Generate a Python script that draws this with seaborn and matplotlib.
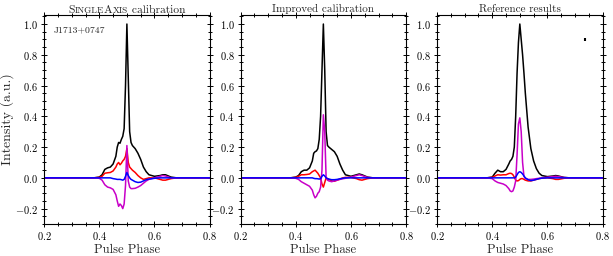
import numpy as np
import pandas as pd
import matplotlib
matplotlib.use('Agg')
import matplotlib.pyplot as plt
import seaborn as sns
from matplotlib.ticker import MultipleLocator

sns.set_style('ticks')
plt.rcParams['font.family'] = 'serif'
plt.rcParams['font.serif'] = ['cmr10']
plt.rcParams['mathtext.fontset'] = 'cm'
plt.rcParams['axes.formatter.use_mathtext'] = True
plt.rcParams['axes.unicode_minus'] = True

# pulse phase samples (shared by all profiles)
phase = [0.20, 0.38, 0.40, 0.41, 0.42, 0.43, 0.44, 0.45, 0.46, 0.465,
         0.47, 0.475, 0.48, 0.485, 0.49, 0.495, 0.50, 0.505, 0.51, 0.515,
         0.52, 0.53, 0.54, 0.55, 0.56, 0.57, 0.58, 0.60, 0.62, 0.63,
         0.64, 0.66, 0.68, 0.80]

# SingleAxis calibration
sa_I = [0, 0, 0.005, 0.02, 0.055, 0.065, 0.07, 0.09, 0.14, 0.2,
        0.23, 0.225, 0.25, 0.27, 0.32, 0.6, 1.0, 0.65, 0.3, 0.23,
        0.21, 0.19, 0.16, 0.12, 0.07, 0.04, 0.02, 0.01, 0.015, 0.02,
        0.02, 0.005, 0, 0]
sa_L = [0, 0, 0.003, 0.01, 0.03, 0.033, 0.035, 0.045, 0.07, 0.09,
        0.10, 0.085, 0.095, 0.11, 0.12, 0.14, 0.19, 0.1, 0.07, 0.06,
        0.05, 0.035, 0.015, 0.0, -0.01, -0.005, 0.0, 0.0, -0.01, -0.015,
        -0.015, -0.005, 0, 0]
sa_V = [0, 0, -0.003, -0.015, -0.045, -0.06, -0.065, -0.075, -0.11, -0.15,
        -0.185, -0.17, -0.18, -0.2, -0.17, -0.05, 0.21, -0.02, -0.06, -0.07,
        -0.07, -0.068, -0.06, -0.05, -0.035, -0.02, -0.01, 0.0, 0.01, 0.015,
        0.012, 0.0, 0, 0]
sa_B = [0, 0, 0, 0, 0, 0, 0, -0.005, -0.008, -0.01,
        -0.01, -0.01, -0.012, -0.015, -0.01, 0.01, 0.035, 0.015, 0.0, -0.01,
        -0.015, -0.025, -0.03, -0.028, -0.02, -0.012, -0.008, -0.003, 0, 0,
        0, 0, 0, 0]

# Improved calibration
im_I = [0, 0, 0.005, 0.015, 0.04, 0.05, 0.05, 0.065, 0.11, 0.16,
        0.17, 0.175, 0.19, 0.25, 0.4, 0.7, 1.0, 0.7, 0.3, 0.21,
        0.2, 0.185, 0.17, 0.14, 0.09, 0.05, 0.02, 0.01, 0.02, 0.025,
        0.02, 0.005, 0, 0]
im_L = [0, 0, 0.003, 0.01, 0.02, 0.02, 0.022, 0.025, 0.04, 0.045,
        0.05, 0.04, 0.03, 0.015, 0.0, -0.04, -0.06, -0.03, 0.0, -0.005,
        -0.01, -0.02, -0.022, -0.015, -0.008, 0.0, 0.003, 0.003, -0.005, -0.012,
        -0.015, -0.005, 0, 0]
im_V = [0, 0, -0.003, -0.01, -0.025, -0.035, -0.045, -0.055, -0.08, -0.11,
        -0.13, -0.12, -0.1, -0.09, -0.06, 0.05, 0.41, 0.3, 0.0, -0.015,
        -0.02, -0.025, -0.02, -0.015, -0.01, -0.006, -0.003, 0.005, 0.015, 0.02,
        0.015, 0.003, 0, 0]
im_B = [0, 0, 0, 0, 0, 0, 0, 0, 0, -0.003,
        -0.005, -0.005, -0.006, -0.008, -0.005, 0.01, 0.02, 0.012, 0.0, -0.005,
        -0.008, -0.012, -0.012, -0.01, -0.006, -0.003, 0, 0, 0, 0,
        0, 0, 0, 0]

# Reference results
rf_I = [0, 0, 0.005, 0.03, 0.05, 0.04, 0.04, 0.055, 0.09, 0.11,
        0.12, 0.14, 0.2, 0.4, 0.68, 0.88, 1.0, 0.9, 0.8, 0.68,
        0.55, 0.33, 0.19, 0.11, 0.06, 0.03, 0.015, 0.008, 0.012, 0.015,
        0.012, 0.003, 0, 0]
rf_L = [0, 0, 0.003, 0.012, 0.02, 0.018, 0.02, 0.02, 0.028, 0.03,
        0.028, 0.02, 0.005, -0.015, -0.02, -0.018, -0.01, -0.005, -0.005, -0.01,
        -0.015, -0.02, -0.02, -0.015, -0.01, -0.005, -0.002, 0.0, -0.005, -0.01,
        -0.01, -0.003, 0, 0]
rf_V = [0, 0, -0.005, -0.02, -0.03, -0.035, -0.04, -0.05, -0.07, -0.085,
        -0.09, -0.085, -0.06, -0.02, 0.15, 0.35, 0.39, 0.3, 0.1, 0.01,
        -0.005, -0.01, -0.01, -0.008, -0.005, -0.003, 0.0, 0.004, 0.008, 0.01,
        0.008, 0.002, 0, 0]
rf_B = [0, 0, 0, 0, 0, 0, 0, 0, 0, 0,
        0, 0, 0, 0.005, 0.02, 0.035, 0.04, 0.035, 0.025, 0.012,
        0.0, -0.012, -0.018, -0.015, -0.01, -0.005, -0.002, 0, 0, 0,
        0, 0, 0, 0]

titles = ['SingleAxis calibration', 'Improved calibration', 'Reference results']
panels = [(sa_I, sa_L, sa_V, sa_B), (im_I, im_L, im_V, im_B), (rf_I, rf_L, rf_V, rf_B)]
colors = ['black', '#ff0000', '#c800c8', '#0000ff']

err_x, err_y, err_h = 0.738, 0.9, 0.012

fig, axes = plt.subplots(1, 3, figsize=(6.13, 2.56), dpi=100)
fig.subplots_adjust(left=0.072, right=0.983, top=0.941, bottom=0.125, wspace=0.187)

for i, ax in enumerate(axes):
    for vals, c in zip(panels[i], colors):
        sns.lineplot(x=phase, y=vals, color=c, lw=1.1, ax=ax)
    ax.set_xlim(0.2, 0.8)
    ax.set_ylim(-0.3, 1.058)
    ax.xaxis.set_major_locator(MultipleLocator(0.2))
    ax.xaxis.set_minor_locator(MultipleLocator(0.05))
    ax.yaxis.set_major_locator(MultipleLocator(0.2))
    ax.yaxis.set_minor_locator(MultipleLocator(0.05))
    ax.tick_params(which='both', direction='inout', top=True, right=True,
                   labelsize=7.5, width=0.7, colors='black')
    ax.tick_params(which='major', length=5, pad=2)
    ax.tick_params(which='minor', length=3)
    for s in ax.spines.values():
        s.set_linewidth(0.8)
        s.set_color('black')
    ax.set_xlabel('Pulse Phase', fontsize=9, labelpad=1)
    if i > 0:
        ax.set_title(titles[i], fontsize=8, pad=2)

axes[0].set_ylabel('Intensity (a.u.)', fontsize=10, labelpad=1)
axes[0].text(0.055, 0.95, 'J1713+0747', transform=axes[0].transAxes,
             fontsize=7, va='top', ha='left')

# small caps title for the first panel, pieces laid out side by side
parts = [('S', 8.3), ('INGLE', 6.6), ('A', 8.3), ('XIS', 6.6), ('\u00a0calibration', 8.3)]
texts = [axes[0].text(0, 1.012, txt, fontsize=fs, transform=axes[0].transAxes,
                      ha='left', va='baseline') for txt, fs in parts]
fig.canvas.draw()
renderer = fig.canvas.get_renderer()
widths = [t.get_window_extent(renderer).width for t in texts]
axbb = axes[0].get_window_extent(renderer)
x = 0.5 - sum(widths) / axbb.width / 2
for t, w in zip(texts, widths):
    t.set_x(x)
    x += w / axbb.width

axes[2].errorbar([err_x], [err_y], yerr=[err_h], fmt='none', ecolor='black',
                 elinewidth=1.5, capsize=0)

fig.savefig('out.png', dpi=100)
